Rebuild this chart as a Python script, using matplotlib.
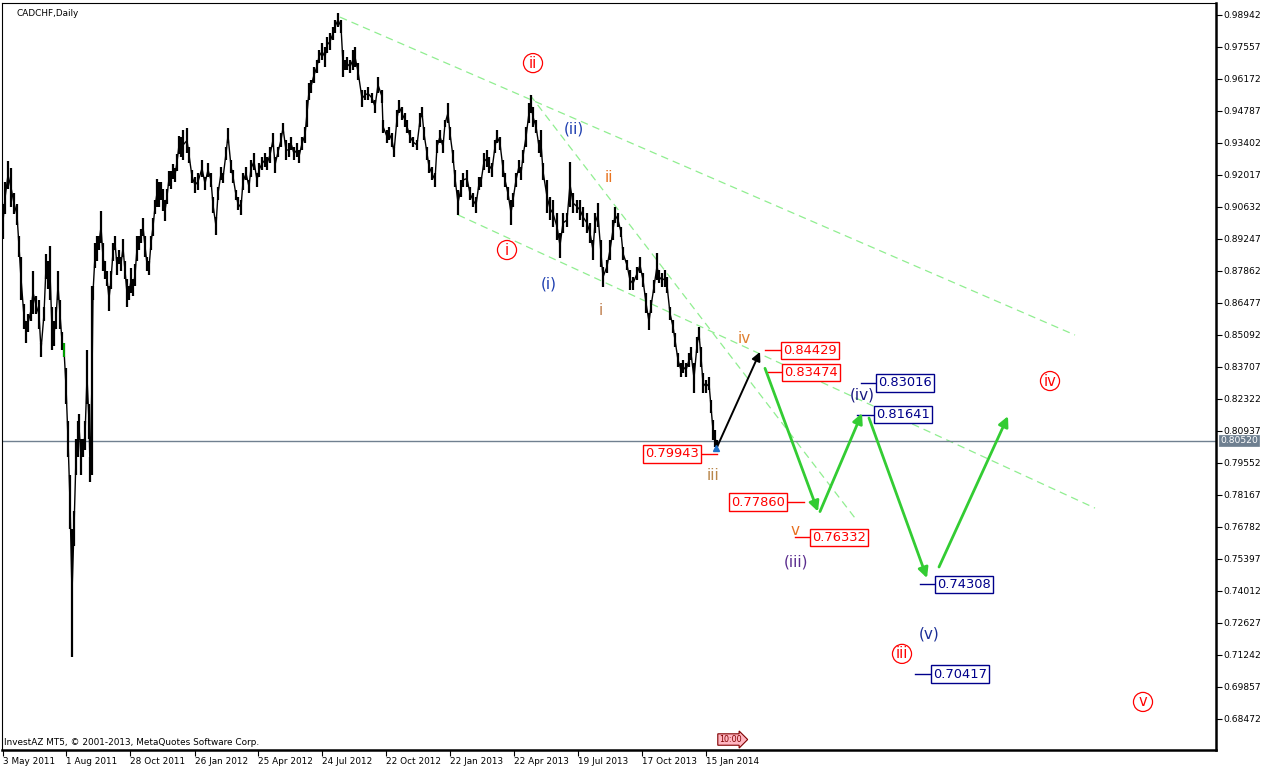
import numpy as np
import matplotlib
matplotlib.use("Agg")
import matplotlib.pyplot as plt
import matplotlib.transforms as mtransforms

plt.rcParams["font.family"] = ["DejaVu Sans"]

# daily CADCHF bars, sampled every 2-3 bars: bar number, high, low
bars = [3, 5, 8, 11, 14, 17, 19, 21, 24, 26, 28, 31, 33, 36, 39, 41, 44, 46, 48, 50,
        52, 54, 56, 58, 60, 62, 64, 66, 68, 70, 72, 74, 76, 78, 79, 81, 83, 85, 87, 89,
        90, 92, 93, 95, 97, 99, 101, 103, 105, 107, 109, 111, 113, 115, 117, 119, 121, 123, 125, 127,
        129, 131, 133, 135, 137, 139, 141, 143, 145, 147, 149, 151, 153, 155, 157, 159, 161, 163, 165, 167,
        169, 171, 173, 175, 177, 179, 181, 183, 187, 189, 192, 195, 198, 202, 205, 208, 211, 213, 216, 218,
        221, 223, 226, 228, 231, 233, 236, 238, 241, 243, 246, 249, 251, 254, 257, 259, 262, 265, 267, 270,
        273, 275, 278, 281, 283, 286, 289, 291, 294, 297, 299, 302, 305, 307, 309, 311, 314, 317, 319, 322,
        325, 327, 330, 333, 335, 338, 341, 343, 345, 347, 350, 353, 355, 358, 362, 365, 368, 372, 375, 378,
        382, 383, 387, 389, 392, 394, 397, 399, 402, 405, 407, 410, 413, 417, 420, 422, 424, 427, 429, 432,
        435, 437, 440, 443, 445, 448, 450, 453, 455, 458, 461, 463, 467, 470, 473, 476, 479, 481, 484, 487,
        489, 492, 495, 497, 500, 503, 505, 508, 511, 513, 516, 519, 521, 523, 526, 529, 531, 533, 536, 539,
        541, 543, 547, 550, 553, 557, 560, 563, 567, 570, 573, 577, 580, 583, 587, 590, 593, 595, 598, 601,
        603, 607, 610, 613, 615, 618, 621, 623, 627, 630, 633, 637, 640, 643, 646, 649, 651, 654, 657, 659,
        662, 665, 667, 670, 673, 675, 678, 681, 683, 686, 689, 691, 694, 697, 699, 701, 703, 706, 709, 711,
        713, 715, 717]
highs = [0.9076, 0.9171, 0.9262, 0.9232, 0.9124, 0.9076, 0.8938, 0.8847, 0.8643, 0.8570,
         0.8600, 0.8661, 0.8786, 0.8678, 0.8661, 0.8475, 0.8630, 0.8860, 0.8829, 0.8894,
         0.8630, 0.8570, 0.8630, 0.8786, 0.8661, 0.8522, 0.8475, 0.8366, 0.8137, 0.7903,
         0.7670, 0.7747, 0.8059, 0.8137, 0.8167, 0.8059, 0.8059, 0.8137, 0.8444, 0.8210,
         0.7981, 0.8721, 0.8721, 0.8907, 0.8938, 0.8938, 0.9046, 0.8907, 0.8829, 0.8786,
         0.8721, 0.8786, 0.8907, 0.8938, 0.8847, 0.8877, 0.8847, 0.8925, 0.8829, 0.8751,
         0.8721, 0.8799, 0.8751, 0.8816, 0.8938, 0.8938, 0.8968, 0.9016, 0.8938, 0.8847,
         0.8829, 0.8938, 0.9016, 0.9093, 0.9184, 0.9171, 0.9171, 0.9141, 0.9093, 0.9141,
         0.9219, 0.9219, 0.9249, 0.9232, 0.9293, 0.9370, 0.9366, 0.9396, 0.9405, 0.9323,
         0.9223, 0.9193, 0.9210, 0.9267, 0.9193, 0.9254, 0.9210, 0.9106, 0.9020, 0.9150,
         0.9236, 0.9210, 0.9323, 0.9405, 0.9267, 0.9223, 0.9137, 0.9106, 0.9093, 0.9210,
         0.9236, 0.9180, 0.9267, 0.9297, 0.9210, 0.9254, 0.9280, 0.9297, 0.9280, 0.9323,
         0.9383, 0.9280, 0.9323, 0.9383, 0.9427, 0.9353, 0.9340, 0.9366, 0.9323, 0.9340,
         0.9310, 0.9366, 0.9409, 0.9526, 0.9600, 0.9613, 0.9669, 0.9699, 0.9743, 0.9773,
         0.9756, 0.9799, 0.9816, 0.9842, 0.9872, 0.9903, 0.9872, 0.9743, 0.9699, 0.9712,
         0.9699, 0.9743, 0.9756, 0.9686, 0.9570, 0.9570, 0.9583, 0.9557, 0.9526, 0.9626,
         0.9570, 0.9440, 0.9396, 0.9409, 0.9383, 0.9323, 0.9483, 0.9526, 0.9496, 0.9470,
         0.9440, 0.9396, 0.9366, 0.9353, 0.9470, 0.9496, 0.9409, 0.9323, 0.9267, 0.9236,
         0.9210, 0.9353, 0.9396, 0.9353, 0.9440, 0.9513, 0.9409, 0.9310, 0.9223, 0.9137,
         0.9180, 0.9210, 0.9223, 0.9150, 0.9124, 0.9106, 0.9193, 0.9193, 0.9297, 0.9310,
         0.9280, 0.9254, 0.9353, 0.9396, 0.9366, 0.9267, 0.9210, 0.9150, 0.9093, 0.9124,
         0.9210, 0.9267, 0.9236, 0.9310, 0.9409, 0.9513, 0.9548, 0.9496, 0.9440, 0.9353,
         0.9396, 0.9254, 0.9180, 0.9106, 0.9093, 0.9037, 0.8951, 0.9037, 0.9037, 0.9258,
         0.9124, 0.9093, 0.9093, 0.9063, 0.9037, 0.8994, 0.8920, 0.9037, 0.9080, 0.8920,
         0.8803, 0.8834, 0.8920, 0.9007, 0.9063, 0.9037, 0.8977, 0.8890, 0.8834, 0.8790,
         0.8760, 0.8803, 0.8847, 0.8777, 0.8691, 0.8604, 0.8661, 0.8747, 0.8864, 0.8790,
         0.8777, 0.8790, 0.8760, 0.8630, 0.8574, 0.8518, 0.8431, 0.8388, 0.8401, 0.8388,
         0.8431, 0.8457, 0.8388, 0.8500, 0.8544, 0.8457, 0.8345, 0.8314, 0.8327, 0.8228,
         0.8141, 0.8098, 0.8055]
lows = [0.8925, 0.9033, 0.9141, 0.9063, 0.9033, 0.8985, 0.8847, 0.8661, 0.8535, 0.8475,
        0.8522, 0.8570, 0.8600, 0.8600, 0.8535, 0.8414, 0.8570, 0.8751, 0.8708, 0.8661,
        0.8444, 0.8462, 0.8535, 0.8661, 0.8535, 0.8444, 0.8414, 0.8210, 0.7981, 0.7670,
        0.7115, 0.7596, 0.7903, 0.7981, 0.8055, 0.7903, 0.7981, 0.8011, 0.8210, 0.8059,
        0.7873, 0.7903, 0.8661, 0.8799, 0.8829, 0.8877, 0.8907, 0.8786, 0.8751, 0.8721,
        0.8613, 0.8708, 0.8829, 0.8877, 0.8769, 0.8816, 0.8786, 0.8847, 0.8751, 0.8630,
        0.8661, 0.8691, 0.8678, 0.8721, 0.8829, 0.8877, 0.8907, 0.8938, 0.8847, 0.8786,
        0.8769, 0.8877, 0.8938, 0.9033, 0.9063, 0.9063, 0.9093, 0.9046, 0.9003, 0.9076,
        0.9154, 0.9141, 0.9184, 0.9171, 0.9219, 0.9293, 0.9280, 0.9267, 0.9297, 0.9254,
        0.9167, 0.9124, 0.9137, 0.9193, 0.9137, 0.9193, 0.9150, 0.9037, 0.8942, 0.9093,
        0.9180, 0.9167, 0.9267, 0.9340, 0.9210, 0.9167, 0.9093, 0.9050, 0.9028, 0.9137,
        0.9180, 0.9124, 0.9193, 0.9223, 0.9150, 0.9193, 0.9223, 0.9236, 0.9223, 0.9254,
        0.9323, 0.9210, 0.9280, 0.9323, 0.9383, 0.9267, 0.9280, 0.9310, 0.9267, 0.9280,
        0.9254, 0.9310, 0.9340, 0.9409, 0.9526, 0.9557, 0.9600, 0.9643, 0.9686, 0.9699,
        0.9669, 0.9730, 0.9743, 0.9786, 0.9816, 0.9842, 0.9816, 0.9626, 0.9656, 0.9656,
        0.9643, 0.9656, 0.9669, 0.9613, 0.9496, 0.9526, 0.9526, 0.9513, 0.9470, 0.9557,
        0.9513, 0.9383, 0.9340, 0.9353, 0.9323, 0.9280, 0.9409, 0.9470, 0.9440, 0.9409,
        0.9383, 0.9340, 0.9323, 0.9310, 0.9409, 0.9453, 0.9353, 0.9267, 0.9210, 0.9180,
        0.9150, 0.9297, 0.9340, 0.9297, 0.9409, 0.9427, 0.9353, 0.9254, 0.9150, 0.9028,
        0.9106, 0.9150, 0.9150, 0.9093, 0.9063, 0.9037, 0.9137, 0.9150, 0.9223, 0.9236,
        0.9210, 0.9193, 0.9297, 0.9340, 0.9310, 0.9193, 0.9150, 0.9093, 0.8985, 0.9063,
        0.9150, 0.9210, 0.9180, 0.9254, 0.9323, 0.9427, 0.9470, 0.9409, 0.9383, 0.9297,
        0.9280, 0.9180, 0.9037, 0.9007, 0.8977, 0.8920, 0.8843, 0.8951, 0.8977, 0.9063,
        0.9037, 0.9037, 0.9007, 0.8977, 0.8951, 0.8907, 0.8834, 0.8951, 0.8977, 0.8803,
        0.8717, 0.8777, 0.8834, 0.8920, 0.8994, 0.8977, 0.8933, 0.8834, 0.8790, 0.8704,
        0.8704, 0.8747, 0.8777, 0.8717, 0.8604, 0.8531, 0.8604, 0.8691, 0.8747, 0.8734,
        0.8717, 0.8717, 0.8691, 0.8574, 0.8518, 0.8457, 0.8371, 0.8327, 0.8345, 0.8327,
        0.8371, 0.8401, 0.8258, 0.8431, 0.8487, 0.8371, 0.8258, 0.8258, 0.8271, 0.8171,
        0.8055, 0.8024, 0.8024]
last_price = 0.80520

date_bars = [3, 66, 130, 195, 258, 322, 386, 450, 514, 578, 642, 706]
date_labels = ["3 May 2011", "1 Aug 2011", "28 Oct 2011", "26 Jan 2012", "25 Apr 2012",
               "24 Jul 2012", "22 Oct 2012", "22 Jan 2013", "22 Apr 2013", "19 Jul 2013",
               "17 Oct 2013", "15 Jan 2014"]
price_ticks = [0.98942 - 0.01385 * k for k in range(23)]

# dashed channel lines: (bar, price) -> (bar, price)
channels = [((340, 0.9885), (1075, 0.8509)),
            ((458, 0.9029), (1095, 0.7760)),
            ((530, 0.9548), (855, 0.7717))]

# projected path
black_arrow = ((717, 0.8024), (760, 0.8436))
green_arrows = [((765, 0.8365), (818, 0.7745)),
                ((820, 0.7745), (862, 0.8171)),
                ((869, 0.8150), (927, 0.7457)),
                ((939, 0.7505), (1008, 0.8158))]

# target levels: value, colour, leader start, leader end, box centre
level_values = [0.84429, 0.83474, 0.79943, 0.77860, 0.76332, 0.83016, 0.81641, 0.74308, 0.70417]
level_colors = ["red"] * 5 + ["#00008B"] * 4
leader_from = [765, 768, 701, 787, 795, 861, 857, 920, 915]
leader_to = [782, 782, 717, 804, 811, 877, 875, 936, 931]
box_centre = [810, 811, 672, 758, 839, 905, 903, 964, 960]

# wave labels: text, bar, price, colour, circled
wave_labels = [("ii", 533, 0.9686, "red", True), ("i", 507, 0.8877, "red", True),
               ("iii", 902, 0.7129, "red", True), ("iv", 1050, 0.8310, "red", True),
               ("v", 1143, 0.6921, "red", True),
               ("(ii)", 574, 0.9401, "#1F3FB0", False), ("(i)", 549, 0.8730, "#1F3FB0", False),
               ("(iv)", 862, 0.8250, "#1A1A80", False), ("(v)", 929, 0.7215, "#1A2E96", False),
               ("(iii)", 796, 0.7527, "#5A2D8E", False),
               ("ii", 609, 0.9193, "#E8731F", False), ("i", 601, 0.8617, "#C08050", False),
               ("iv", 744, 0.8496, "#E08030", False), ("iii", 713, 0.7903, "#B8864A", False),
               ("v", 795, 0.7665, "#E87020", False)]

W, H = 1268, 771
fig = plt.figure(figsize=(W / 100, H / 100), dpi=100)
ax = fig.add_axes([2 / W, 21 / H, 1214 / W, 747 / H])
ax.set_xlim(2, 1216)
ax.set_ylim(0.67130, 0.99461)

b = np.array(bars)
hi = np.array(highs)
lo = np.array(lows)
ax.vlines(b, lo, hi, color="black", lw=1.6, zorder=3)
ax.plot(b, (hi + lo) / 2, color="black", lw=1.0, zorder=3)
ax.vlines([64], [0.8414], [0.8475], color="#00C000", lw=1.2, zorder=4)

ax.axhline(last_price, color="#708090", lw=1.0, zorder=2)

for (x0, y0), (x1, y1) in channels:
    ax.plot([x0, x1], [y0, y1], color="#90EE90", lw=0.9, dashes=(6, 4), zorder=1)

(x0, y0), (x1, y1) = black_arrow
ax.annotate("", xy=(x1, y1), xytext=(x0, y0),
            arrowprops=dict(arrowstyle="-|>", color="black", lw=1.4, mutation_scale=13,
                            shrinkA=0, shrinkB=0), zorder=5)
for (x0, y0), (x1, y1) in green_arrows:
    ax.annotate("", xy=(x1, y1), xytext=(x0, y0),
                arrowprops=dict(arrowstyle="-|>", color="#33CC33", lw=2.0, mutation_scale=15,
                                shrinkA=0, shrinkB=0), zorder=5)
ax.plot([716], [0.8022], marker="^", color="#1E6FC8", ms=5, zorder=6)

for val, col, xa, xb, xc in zip(level_values, level_colors, leader_from, leader_to, box_centre):
    ax.plot([xa, xb], [val, val], color=col, lw=1.0, zorder=4)
    ax.text(xc, val, f"{val:.5f}", color=col, fontsize=9.4, ha="center", va="center", zorder=6,
            bbox=dict(boxstyle="square,pad=0.16", fc="white", ec=col, lw=1.0))

for txt, xb, yp, col, circled in wave_labels:
    if circled:
        ax.text(xb, yp, txt, color=col, fontsize=10.5, ha="center", va="center", zorder=6,
                bbox=dict(boxstyle="circle,pad=0.14", fc="white", ec=col, lw=0.9))
    else:
        ax.text(xb, yp, txt, color=col, fontsize=11, ha="center", va="center", zorder=6)

# axes styling like the terminal
ax.yaxis.tick_right()
ax.set_yticks(price_ticks)
ax.set_yticklabels([f"{p:.5f}" for p in price_ticks])
ax.set_xticks(date_bars)
ax.set_xticklabels(date_labels)
for lbl in ax.get_xticklabels():
    lbl.set_ha("left")
ax.tick_params(axis="y", direction="out", length=4, width=0.8, pad=1, labelsize=6.6)
ax.tick_params(axis="x", direction="out", length=4, width=0.8, pad=1, labelsize=6.4)
for name in ("left", "top"):
    ax.spines[name].set_linewidth(0.8)
for name in ("right", "bottom"):
    ax.spines[name].set_linewidth(1.8)

ax.text(1220, last_price, f"{last_price:.5f}", color="white", fontsize=6.6, ha="left", va="center",
        clip_on=False, zorder=7,
        bbox=dict(boxstyle="square,pad=0.12", fc="#6E7F90", ec="#6E7F90", lw=0.5))

ax.text(0.012, 0.992, "CADCHF,Daily", transform=ax.transAxes, fontsize=6.4, ha="left", va="top")
ax.text(0.002, 0.004, "InvestAZ MT5, \u00a9 2001-2013, MetaQuotes Software Corp.",
        transform=ax.transAxes, fontsize=6.4, ha="left", va="bottom")

trans = mtransforms.blended_transform_factory(ax.transData, ax.transAxes)
ax.text(719, 0.008, "10:00", transform=trans, fontsize=5.8, color="#800000", ha="left", va="bottom",
        bbox=dict(boxstyle="rarrow,pad=0.15", fc="#FFB6C1", ec="#800000", lw=0.8))

fig.savefig("out.png", dpi=100)
